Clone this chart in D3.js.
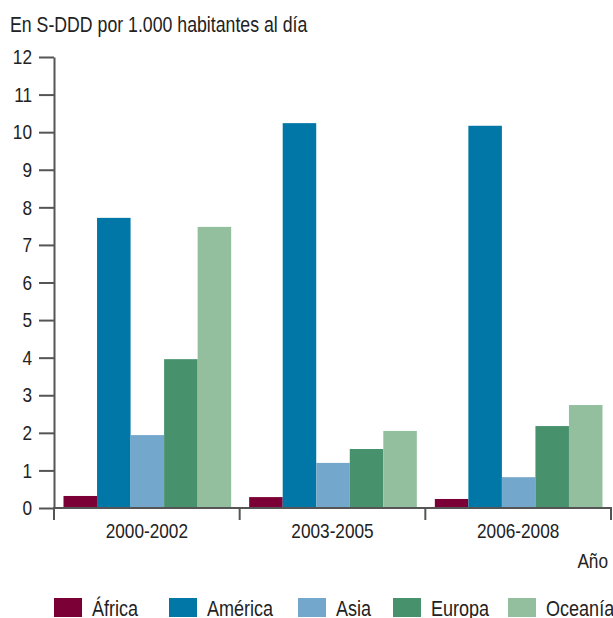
<!DOCTYPE html>
<html>
<head>
<meta charset="utf-8">
<script src="https://cdn.jsdelivr.net/npm/d3@7"></script>
<style>
  body { margin: 0; background: #fff; }
  svg text { font-family: "Liberation Sans", Arial, sans-serif; fill: #222; }
</style>
</head>
<body>
<svg id="svg1" width="613" height="618"></svg>
<script>
var periods = ['2000-2002', '2003-2005', '2006-2008'];
var regions = ['África', 'América', 'Asia', 'Europa', 'Oceanía'];
var africa  = [0.32, 0.29, 0.24];
var america = [7.72, 10.24, 10.17];
var asia    = [1.94, 1.20, 0.82];
var europa  = [3.96, 1.57, 2.18];
var oceania = [7.48, 2.05, 2.74];
var yTicks = [0, 1, 2, 3, 4, 5, 6, 7, 8, 9, 10, 11, 12];
var colors = ['#7a0036', '#0077a6', '#74a7cc', '#47916c', '#93bf9f'];

var SX = 0.82; // horizontal squeeze, the source uses a condensed face

var series = [africa, america, asia, europa, oceania];
var data = [];
periods.forEach(function(p, i) {
    regions.forEach(function(r, j) {
        data.push({period: p, region: r, value: series[j][i]});
    });
});

var svg = d3.select('#svg1');

var x0 = d3.scaleBand().domain(periods).range([54, 611]);
var x1 = d3.scaleBand().domain(regions).range([9.5, x0.bandwidth() - 8.5]);
var y = d3.scaleLinear().domain([0, 12]).range([508, 57]);
var color = d3.scaleOrdinal().domain(regions).range(colors);

// places a condensed text with its anchor at (x, y)
function label(parent, x, yy, txt, size, anchor, sx) {
    return parent.append('g')
        .attr('transform', 'translate(' + x + ',' + yy + ') scale(' + (sx || SX) + ',1)')
        .append('text')
        .attr('text-anchor', anchor || 'start')
        .style('font-size', size + 'px')
        .text(txt);
}

// title
label(svg, 10, 32, 'En S-DDD por 1.000 habitantes al día', 22, 'start', 0.805);

// bars
svg.append('g').selectAll('rect').data(data).enter()
    .append('rect')
    .attr('x', function(d) { return x0(d.period) + x1(d.region); })
    .attr('y', function(d) { return y(d.value); })
    .attr('width', x1.bandwidth())
    .attr('height', function(d) { return y(0) - y(d.value); })
    .attr('fill', function(d) { return color(d.region); });

// y axis
var yAxis = d3.axisLeft(y).tickValues(yTicks).tickSize(15).tickPadding(7).tickSizeOuter(0);
var gy = svg.append('g').attr('transform', 'translate(54,0)').call(yAxis);
gy.selectAll('line, path').attr('stroke', '#555').attr('stroke-width', 2);
gy.selectAll('text')
    .attr('x', -22 / SX)
    .attr('transform', 'scale(' + SX + ',1)')
    .attr('fill', '#222')
    .style('font-size', '21px')
    .style('font-family', '"Liberation Sans", Arial, sans-serif');

// x axis
var gx = svg.append('g');
gx.append('line')
    .attr('x1', 53).attr('x2', 612).attr('y1', y(0)).attr('y2', y(0))
    .attr('stroke', '#555').attr('stroke-width', 2);
var bounds = periods.map(function(p) { return x0(p); }).concat([x0.range()[1]]);
gx.selectAll('line.tk').data(bounds).enter().append('line')
    .attr('class', 'tk')
    .attr('x1', function(d) { return d; }).attr('x2', function(d) { return d; })
    .attr('y1', y(0)).attr('y2', y(0) + 12)
    .attr('stroke', '#555').attr('stroke-width', 2);
periods.forEach(function(p) {
    label(gx, x0(p) + x0.bandwidth() / 2, 538, p, 21, 'middle');
});

label(svg, 608, 568, 'Año', 21, 'end');

// legend
var legendX = [54, 169, 298, 393, 508];
regions.forEach(function(r, i) {
    var g = svg.append('g').attr('transform', 'translate(' + legendX[i] + ',598)');
    g.append('rect')
        .attr('width', 28).attr('height', 19)
        .attr('fill', color(r));
    label(g, 38, 18, r, 22);
});
</script>
</body>
</html>
